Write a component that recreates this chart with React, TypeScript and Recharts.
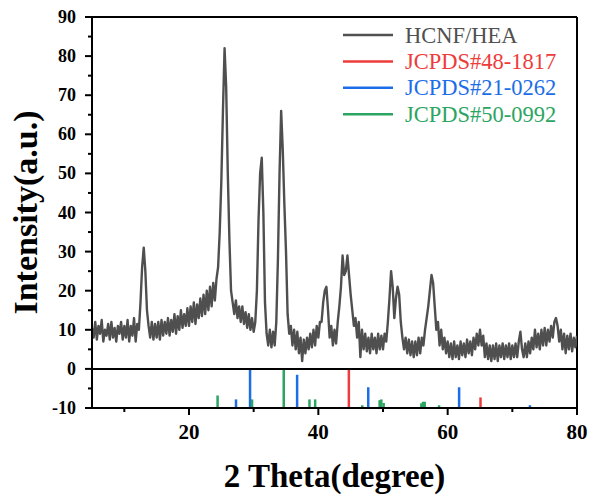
import { LineChart, Line, XAxis, YAxis, ReferenceLine } from 'recharts'

// XRD scan, sampled every 0.25 deg from 5 to 80
const scanStart = 5
const scanStep = 0.25
const intensity = [
  10.5, 8, 12, 7.5, 11, 9, 12.5, 7, 10, 8.5, 11.5, 7.5, 12, 8, 10.5, 7, 11, 9, 12, 7.5,
  11, 8, 12.5, 7, 11, 8.5, 13, 7, 11.5, 10, 17, 26, 31, 25, 15, 11, 8, 12, 7.5, 11.5,
  8, 12, 7.5, 12.5, 8.5, 12, 9, 13, 8.5, 12.5, 9.5, 14, 9, 13.5, 10, 15, 10.5, 14, 11, 15.5,
  11, 16, 12, 17, 11.5, 16.5, 13, 18, 13.5, 19, 14, 20, 15, 21, 16, 22, 17.5, 23, 26, 35,
  48, 66, 82, 72, 50, 33, 20, 17, 14, 17.5, 13, 16, 12, 16, 11.5, 14.5, 10.5, 14, 10, 13,
  9.5, 12, 20, 38, 50, 54, 40, 17, 9, 6, 10, 5.5, 9.5, 6, 12, 28, 50, 66, 56, 42,
  30, 14, 9, 11, 6, 10, 5, 9.5, 4, 8, 2, 7.5, 4, 8, 5, 9, 5.5, 10, 6, 11,
  8, 12, 12, 17, 20, 21, 15, 8, 11, 6, 10, 6.5, 12, 16, 21, 29, 24, 25, 29, 24,
  19, 15, 11, 13, 8, 12, 3, 10, 5, 9, 4.5, 8, 4, 9, 5, 8, 4, 9, 5, 8.5,
  5, 9, 7, 12, 18, 25, 21, 13, 18, 21, 19, 12, 8, 5, 8, 4, 7.5, 3.5, 7, 3,
  7, 3.5, 8, 4, 8, 6, 10, 13, 16, 20, 24, 22, 16, 10, 12, 6, 10, 5, 8, 4,
  7, 3, 6.5, 2.5, 7, 3, 6, 2.5, 7, 3.5, 6.5, 3, 7.5, 4, 7, 3.5, 8, 5, 9, 6,
  10, 6, 8.5, 3, 6.5, 2.5, 6, 2, 6, 2.5, 6.5, 2, 6, 3, 6.5, 2.5, 6, 3, 6.5, 2.5,
  6, 3, 6.5, 3, 7, 9.5, 5, 3, 6.5, 3, 7, 4, 8, 5, 10, 5.5, 9, 5, 10, 6,
  10.5, 6, 10, 7, 11, 8, 12, 13, 11, 7, 10, 5, 9, 4, 8.5, 5, 9, 4.5, 8, 5.5, 8.5,
]
const twoTheta = intensity.map((_, i) => scanStart + i * scanStep)

// reference cards: peak positions (deg) and relative intensity (%)
const pos481817 = [44.72, 65.08]
const rel481817 = [100, 27]
const pos210262 = [27.27, 29.44, 36.72, 47.72, 61.77, 72.72]
const rel210262 = [22, 100, 85, 53, 53, 7]
const pos500992 = [24.42, 29.75, 34.65, 38.63, 39.51, 46.79, 49.48, 49.74, 50.1, 55.93, 56.19, 56.45, 58.67]
const rel500992 = [32, 22, 100, 22, 22, 7, 20, 22, 13, 12, 16, 16, 7]

const xTicks = [10, 20, 30, 40, 50, 60, 70, 80]
const yTicks = [-10, -5, 0, 5, 10, 15, 20, 25, 30, 35, 40, 45, 50, 55, 60, 65, 70, 75, 80, 85, 90]

const data = twoTheta.map((t, i) => ({ t, v: intensity[i] }))

const cards = [
  { name: 'JCPDS#48-1817', color: '#ee3b3b', pos: pos481817, rel: rel481817 },
  { name: 'JCPDS#21-0262', color: '#1c6ee8', pos: pos210262, rel: rel210262 },
  { name: 'JCPDS#50-0992', color: '#2ca562', pos: pos500992, rel: rel500992 },
]

const serif = '"Liberation Serif", "Times New Roman", serif'

function XTick({ x, y, payload }: any) {
  const major = payload.value % 20 === 0
  return (
    <g>
      <line x1={x} y1={y} x2={x} y2={y + (major ? 7 : 4)} stroke="#000" strokeWidth={2} />
      {major && (
        <text x={x} y={y + 31} textAnchor="middle" fontFamily={serif} fontWeight="bold" fontSize={21} fill="#000">
          {payload.value}
        </text>
      )}
    </g>
  )
}

function YTick({ x, y, payload }: any) {
  const major = payload.value % 10 === 0
  return (
    <g>
      <line x1={x} y1={y} x2={x - (major ? 7 : 4)} y2={y} stroke="#000" strokeWidth={2} />
      {major && (
        <text x={x - 16} y={y + 6} textAnchor="end" fontFamily={serif} fontWeight="bold" fontSize={18} fill="#000">
          {payload.value}
        </text>
      )}
    </g>
  )
}

function XTitle({ viewBox }: any) {
  return (
    <text x={viewBox.x + viewBox.width / 2} y={viewBox.y + viewBox.height - 8} textAnchor="middle"
      fontFamily={serif} fontWeight="bold" fontSize={33} fill="#000">
      2 Theta(degree)
    </text>
  )
}

function YTitle({ viewBox }: any) {
  const cy = viewBox.y + viewBox.height / 2
  return (
    <text transform={`translate(37, ${cy}) rotate(-90)`} textAnchor="middle"
      fontFamily={serif} fontWeight="bold" fontSize={34} fill="#000">
      Intensity(a.u.)
    </text>
  )
}

function LegendBox() {
  const rows = [{ name: 'HCNF/HEA', color: '#505050' }, ...cards]
  return (
    <svg width={590} height={495} style={{ position: 'absolute', left: 0, top: 0, pointerEvents: 'none' }}>
      {rows.map((r, i) => {
        const cy = 35 + i * 26.4
        return (
          <g key={r.name}>
            <line x1={343} x2={393} y1={cy} y2={cy} stroke={r.color} strokeWidth={2.5} />
            <text x={405} y={cy + 7.5} fontFamily={serif} fontSize={22.5} fill={r.color}>{r.name}</text>
          </g>
        )
      })}
    </svg>
  )
}

export default function App() {
  return (
    <div style={{ position: 'absolute', left: 0, top: 0, width: 590, height: 495, background: '#fff' }}>
      <LineChart width={590} height={495} data={data} margin={{ top: 17, right: 13, bottom: 0, left: 0 }}>
        <XAxis
          type="number"
          dataKey="t"
          domain={[5, 80]}
          allowDataOverflow
          ticks={xTicks}
          interval={0}
          height={87}
          tickLine={false}
          tickSize={0}
          tickMargin={0}
          axisLine={{ stroke: '#000', strokeWidth: 2 }}
          tick={<XTick />}
          label={{ content: <XTitle /> }}
        />
        <YAxis
          type="number"
          domain={[-10, 90]}
          allowDataOverflow
          ticks={yTicks}
          interval={0}
          width={92}
          tickLine={false}
          tickSize={0}
          tickMargin={0}
          axisLine={{ stroke: '#000', strokeWidth: 2 }}
          tick={<YTick />}
          label={{ content: <YTitle /> }}
        />
        {cards.flatMap((c) =>
          c.pos.map((x, i) => (
            <ReferenceLine
              key={c.name + i}
              segment={[{ x, y: -10 }, { x, y: -10 + c.rel[i] / 10 }]}
              stroke={c.color}
              strokeWidth={2.5}
            />
          ))
        )}
        <ReferenceLine y={0} stroke="#000" strokeWidth={2} />
        <ReferenceLine y={90} stroke="#000" strokeWidth={2} />
        <ReferenceLine x={80} stroke="#000" strokeWidth={2} />
        <Line
          dataKey="v"
          type="linear"
          stroke="#4f4f4f"
          strokeWidth={2.4}
          strokeLinejoin="round"
          dot={false}
          isAnimationActive={false}
        />
      </LineChart>
      <LegendBox />
    </div>
  )
}
